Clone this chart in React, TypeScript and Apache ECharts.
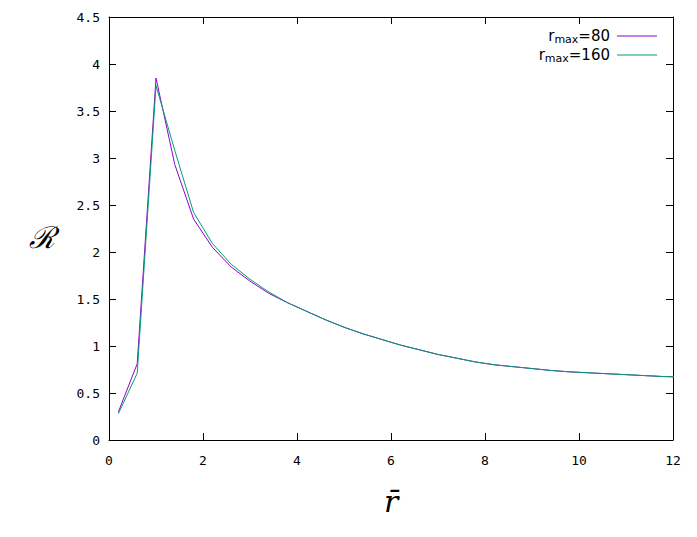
import React, { useEffect, useRef } from "react";
import * as echarts from "echarts";

const xValues = [0.2, 0.6, 1.0, 1.4, 1.8, 2.2, 2.6, 3.0, 3.4, 3.8, 4.2, 4.6, 5.0, 5.4, 5.8, 6.2, 6.6, 7.0, 7.4, 7.8, 8.2, 8.6, 9.0, 9.4, 9.8, 10.2, 10.6, 11.0, 11.4, 11.8, 12.2];
const rmax80 = [0.30, 0.81, 3.85, 2.93, 2.35, 2.05, 1.84, 1.69, 1.56, 1.46, 1.37, 1.28, 1.20, 1.13, 1.07, 1.01, 0.96, 0.91, 0.87, 0.83, 0.80, 0.78, 0.76, 0.74, 0.725, 0.715, 0.705, 0.695, 0.685, 0.675, 0.67];
const rmax160 = [0.28, 0.71, 3.77, 3.08, 2.42, 2.09, 1.87, 1.71, 1.575, 1.46, 1.37, 1.28, 1.20, 1.13, 1.07, 1.01, 0.96, 0.91, 0.87, 0.83, 0.80, 0.78, 0.76, 0.74, 0.725, 0.715, 0.705, 0.695, 0.685, 0.675, 0.67];
const seriesNames = ["80", "160"];
const colors = ["#9400d3", "#009e73"];

export default function App() {
  const ref = useRef<HTMLDivElement>(null);
  useEffect(() => {
    const chart = echarts.init(ref.current!, null, { renderer: "svg" });
    const tickFont = { fontFamily: "DejaVu Sans Mono", fontSize: 13, color: "#000" };
    const axisCommon = {
      type: "value" as const,
      axisLine: { show: true, onZero: false, lineStyle: { color: "#000", width: 1 } },
      axisTick: { show: true, inside: true, length: 7, lineStyle: { color: "#000", width: 1 } },
      splitLine: { show: false },
    };
    const data80 = xValues.map((x, i) => [x, rmax80[i]]);
    const data160 = xValues.map((x, i) => [x, rmax160[i]]);
    chart.setOption({
      animation: false,
      grid: { left: 109, top: 17, right: 24, bottom: 97 },
      xAxis: [
        { ...axisCommon, min: 0, max: 12, interval: 2, position: "bottom",
          axisLabel: { ...tickFont, margin: 14 } },
        { ...axisCommon, min: 0, max: 12, interval: 2, position: "top",
          axisLabel: { show: false } },
      ],
      yAxis: [
        { ...axisCommon, min: 0, max: 4.5, interval: 0.5, position: "left",
          axisLabel: { ...tickFont, margin: 9 } },
        { ...axisCommon, min: 0, max: 4.5, interval: 0.5, position: "right",
          axisLabel: { show: false } },
      ],
      legend: {
        orient: "vertical",
        right: 35,
        top: 22,
        align: "right",
        itemWidth: 40,
        itemHeight: 10,
        itemGap: 1,
        icon: "path://M0,4.5 L40,4.5 L40,5.5 L0,5.5 Z",
        formatter: (name: string) => `{r|r}{s|max}{r|=${name}}`,
        textStyle: {
          padding: [0, 2, 0, 0],
          rich: {
            r: { fontFamily: "DejaVu Sans", fontSize: 15, color: "#000", lineHeight: 17 },
            s: { fontFamily: "DejaVu Sans", fontSize: 11, color: "#000", lineHeight: 10, padding: [7, 0, 0, 0] },
          },
        },
      },
      graphic: [
        { type: "text", left: 29, top: 222,
          style: { text: "ℛ", font: "italic 30px 'DejaVu Serif'", fill: "#000" } },
        { type: "text", left: 384, top: 486,
          style: { text: "r̄", font: "italic 30px 'DejaVu Serif'", fill: "#000" } },
      ],
      series: [
        { name: seriesNames[0], type: "line", data: data80, symbol: "none", color: colors[0],
          lineStyle: { width: 1, color: colors[0] }, clip: true },
        { name: seriesNames[1], type: "line", data: data160, symbol: "none", color: colors[1],
          lineStyle: { width: 1, color: colors[1] }, clip: true },
      ],
    });
    return () => chart.dispose();
  }, []);
  return <div ref={ref} style={{ position: "fixed", left: 0, top: 0, width: 697, height: 537, background: "#fff" }} />;
}
